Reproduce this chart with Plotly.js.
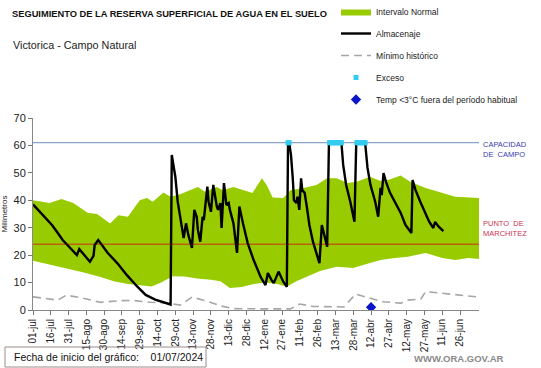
<!DOCTYPE html>
<html><head><meta charset="utf-8">
<script src="https://cdn.plot.ly/plotly-3.0.1.min.js"></script>
<style>html,body{margin:0;padding:0;background:#fff;}#chart{width:541px;height:368px;}</style>
</head><body><div id="chart"></div>
<script>
// ---- data (day index counted from 01/07/2024) ----
const tickDays = [0,15,30,45,60,75,90,105,120,135,150,165,180,195,210,225,240,255,270,285,300,315,330,345,360];
const tickLabels = ["01-jul","16-jul","31-jul","15-ago","30-ago","14-sep","29-sep","14-oct","29-oct","13-nov","28-nov","13-dic","28-dic","12-ene","27-ene","11-feb","26-feb","13-mar","28-mar","12-abr","27-abr","12-may","27-may","11-jun","26-jun"];
const xRange = [0, 376];

const normalUpperDays = [0,14,24,34,46,54,65,72,80,90,96,101,110,116,124,132,139,145,155,160,169,179,185,193,197,202,211,217,228,239,248,256,265,273,284,293,300,310,318,331,345,356,376];
const normalUpper =     [40,39,40.5,39,35.5,35,31.5,34.5,34,40,40.8,39.5,42.8,41.3,42.2,43.7,44.8,43.1,44.8,43.7,44.8,43.5,42.7,48,45.6,41,40.8,43.7,44.5,45.6,48,48,46.3,46.8,48.6,47,47.5,49,46.8,44.5,42.7,41.3,40.8];
const normalLowerDays = [0,14,28,42,57,68,80,90,100,108,118,128,138,150,158,166,176,186,196,206,214,222,228,242,256,270,284,293,305,316,331,345,356,367,376];
const normalLower =     [18,16.6,15.2,13.8,12,10.5,9.5,9,8.6,10,12.3,12.2,11.5,11,10.5,8,8.4,9.5,10,9.5,8.5,10.5,11.7,14.2,15.8,15.3,17.1,18.2,19,19.4,20.8,19,18.2,19,18.6];

const almDays = [0,8,16,20,25,29,33,37,39,42,48,51,52,55,58,63,71,79,88,95,103,110,116,117,120,122,125,127,129,131,134,136,138,139,141,143,144,147,148,150,152,154,155,156,158,159,161,163,165,166,169,172,174,177,181,186,192,196,198,201,203,207,211,214,215,216,217.5,219,220,222,223,224.5,226,227,229,231,233,236,239.5,241.5,243.5,246,248,249.5,260,261.5,264,267.5,271,272.5,280,282,284.5,288.5,291,293,294,295.5,297.5,301,305.5,310,314,319,320,322.5,326.5,331,334,337.5,339,342,346];
const almacenaje = [38.5,34.8,31,28.6,25.5,23.7,21.9,20,22.2,20.8,17.6,19.7,23.7,25.5,23.7,20.8,17.1,12.8,8.5,5.5,3.8,2.8,2,56.5,48.6,39.5,31.6,26.2,31.6,27.3,22.6,36.5,34,29.2,24.9,34,32.8,45,39.5,35.8,45.6,39.5,37.7,36.5,39,29.9,46.3,38.3,39,36.5,31.6,20.8,37.7,31.6,24.4,18.2,12,9.1,13.5,11,9.8,14,10.3,8.5,61,61,56.5,48,40,39,41.3,36.5,48,43.7,42.7,37.2,31,24.9,20,17.1,31,26.2,23.1,61,61,52.9,45.6,39.5,32.2,61,61,51.8,45.6,39.5,34,44.5,41.9,49.9,46.8,42.7,39,35.4,31,28.1,47.4,43.7,39.5,35.4,32.2,29.9,32.1,30.4,28.8];

const minDays = [0,14,21,28,40,57,65,73,84,99,113,124,134,147,158,169,197,217,225,236,253,262,272,282,295,310,316,327,331,343,360,376];
const minimoHist = [4.8,4,3.6,5.4,4.5,2.8,3.2,3.4,3.5,2.8,2.5,1.8,4.7,3.2,1.5,0.5,0.4,0.4,2.2,1.3,1.2,1.1,5.8,4.7,3,2.5,3.6,4,6.7,6.2,5.3,4.7];

const capacidadCampo = 61;
const puntoMarchitez = 24;
const excesoDays = [215,216,250,251,252,253,254,255,256,257,258,259,260,273,274,275,276,277,278,279,280];
const excesoVals = [61,61,61,61,61,61,61,61,61,61,61,61,61,61,61,61,61,61,61,61,61];
const tempDays = [285];
const tempVals = [1];

// ---- helpers for paper positions ----
const PX = p => (p - 33) / 446;
const PY = p => (310 - p) / 192;
const FONT = "Liberation Sans, Arial, sans-serif";

const traces = [
  {x: normalLowerDays, y: normalLower, type: 'scatter', mode: 'lines', line: {width: 0, color: '#99cc00'},
   showlegend: false, hoverinfo: 'skip'},
  {x: normalUpperDays, y: normalUpper, type: 'scatter', mode: 'lines', fill: 'tonexty', fillcolor: '#99cc00',
   line: {width: 0, color: '#99cc00'}, name: 'Intervalo Normal', legendgroup: 'a', legendrank: 1},
  {x: xRange, y: [capacidadCampo, capacidadCampo], type: 'scatter', mode: 'lines', line: {color: '#8aa4c8', width: 1.2},
   showlegend: false, hoverinfo: 'skip'},
  {x: xRange, y: [puntoMarchitez, puntoMarchitez], type: 'scatter', mode: 'lines', line: {color: '#b9620a', width: 1.5},
   showlegend: false, hoverinfo: 'skip'},
  {x: minDays, y: minimoHist, type: 'scatter', mode: 'lines', line: {color: '#a6a6a6', width: 1.6, dash: '8px,5px'},
   name: 'Mínimo histórico', legendgroup: 'c', legendrank: 3},
  {x: almDays, y: almacenaje, type: 'scatter', mode: 'lines', line: {color: '#000000', width: 2.4},
   name: 'Almacenaje', legendgroup: 'b', legendrank: 2},
  {x: excesoDays, y: excesoVals, type: 'scatter', mode: 'markers', marker: {color: '#33ccee', size: 5, symbol: 'square'},
   name: 'Exceso', legendgroup: 'd', legendrank: 4},
  {x: tempDays, y: tempVals, type: 'scatter', mode: 'markers', marker: {color: '#0a14c8', size: 8, symbol: 'diamond'},
   name: 'Temp <3°C fuera del período habitual', legendgroup: 'e', legendrank: 5}
];

const layout = {
  width: 541, height: 368,
  margin: {l: 33, r: 62, t: 118, b: 58, pad: 0, autoexpand: false},
  paper_bgcolor: '#ffffff', plot_bgcolor: '#ffffff',
  font: {family: FONT, color: '#222'},
  showlegend: true,
  legend: {x: PX(336), y: PY(-3), xanchor: 'left', yanchor: 'top', font: {size: 8.5, color: '#222', family: FONT},
           tracegroupgap: 3, itemwidth: 30, bgcolor: 'rgba(0,0,0,0)', traceorder: 'grouped'},
  xaxis: {range: xRange, tickvals: tickDays, ticktext: tickLabels, tickangle: -90, ticks: 'outside', ticklen: 4,
          tickcolor: '#777', showline: true, linecolor: '#888', linewidth: 1, showgrid: false, zeroline: false,
          tickfont: {size: 10, color: '#222', family: FONT}, fixedrange: true, automargin: false},
  yaxis: {range: [0, 70], dtick: 10, ticks: 'outside', ticklen: 4, tickcolor: '#777', showline: true,
          linecolor: '#888', linewidth: 1, showgrid: false, zeroline: false, automargin: false,
          tickfont: {size: 11, color: '#222', family: FONT},
          title: {text: 'Milímetros', font: {size: 8, color: '#222', family: FONT}}},
  shapes: [
    {type: 'rect', xref: 'paper', yref: 'paper', x0: PX(5), x1: PX(206), y0: PY(367), y1: PY(347),
     line: {color: '#9c8a8a', width: 1}, fillcolor: 'rgba(0,0,0,0)'}
  ],
  annotations: [
    {xref: 'paper', yref: 'paper', x: PX(10), y: PY(14), xanchor: 'left', yanchor: 'middle', showarrow: false,
     text: '<b>SEGUIMIENTO DE LA RESERVA SUPERFICIAL DE AGUA EN EL SUELO</b>', font: {size: 9.3, color: '#111'}},
    {xref: 'paper', yref: 'paper', x: PX(11), y: PY(45), xanchor: 'left', yanchor: 'middle', showarrow: false,
     text: 'Victorica - Campo Natural', font: {size: 10.8, color: '#222'}},
    {xref: 'paper', yref: 'y', x: PX(481), y: capacidadCampo, xanchor: 'left', yanchor: 'middle', yshift: -7,
     showarrow: false, align: 'left', text: 'CAPACIDAD<br>DE  CAMPO', font: {size: 7.5, color: '#3b3bb0'}},
    {xref: 'paper', yref: 'y', x: PX(481), y: puntoMarchitez, xanchor: 'left', yanchor: 'middle', yshift: 15.5,
     showarrow: false, align: 'left', text: 'PUNTO  DE<br>MARCHITEZ', font: {size: 7.5, color: '#cc3355'}},
    {xref: 'paper', yref: 'paper', x: PX(12), y: PY(357), xanchor: 'left', yanchor: 'middle', showarrow: false,
     text: 'Fecha de inicio del gráfico:&nbsp;&nbsp;&nbsp;&nbsp;01/07/2024', font: {size: 10.5, color: '#111'}},
    {xref: 'paper', yref: 'paper', x: PX(412), y: PY(358), xanchor: 'left', yanchor: 'middle', showarrow: false,
     text: '<b>WWW.ORA.GOV.AR</b>', font: {size: 9.5, color: '#8a8a8a'}}
  ]
};

Plotly.newPlot('chart', traces, layout, {staticPlot: true, displayModeBar: false});
</script>
</body></html>
